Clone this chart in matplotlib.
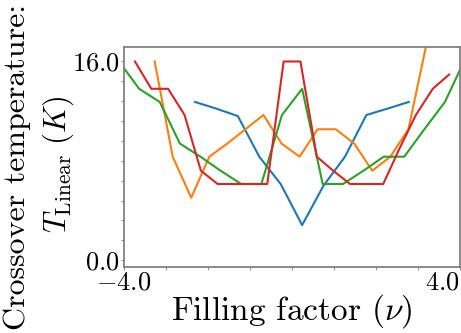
import matplotlib
matplotlib.use("Agg")
import matplotlib.pyplot as plt

plt.rcParams['font.family'] = 'serif'
plt.rcParams['font.serif'] = ['cmr10', 'DejaVu Serif']
plt.rcParams['mathtext.fontset'] = 'cm'
plt.rcParams['axes.unicode_minus'] = False

# filling factor grids of the four curves
x_blue = [-2.31, -1.80, -1.29, -0.78, -0.27, 0.24, 0.75, 1.26, 1.77, 2.27, 2.78]
x_orange = [-3.27, -2.84, -2.40, -1.97, -1.54, -1.11, -0.68, -0.25,
            0.18, 0.61, 1.04, 1.48, 1.91, 2.34, 2.77, 3.20]
x_green = [-4.12, -3.64, -3.15, -2.67, -2.18, -1.70, -1.21, -0.73, -0.24,
           0.24, 0.73, 1.21, 1.70, 2.18, 2.67, 3.15, 3.64, 4.12]
x_red = [-3.74, -3.35, -2.95, -2.56, -2.17, -1.77, -1.38, -0.98, -0.59, -0.20,
         0.20, 0.59, 0.98, 1.38, 1.77, 2.17, 2.56, 2.95, 3.35, 3.74]

# crossover temperatures (K)
t_blue = [12.74, 12.2, 11.6, 8.33, 6.13, 2.82, 6.0, 8.33, 11.69, 12.2, 12.74]
t_orange = [16.0, 8.33, 5.02, 8.33, 9.39, 10.54, 11.69, 9.39,
            8.33, 10.54, 10.54, 9.39, 7.2, 8.33, 10.54, 17.4]
t_green = [16.0, 13.8, 12.74, 9.39, 8.33, 7.2, 6.13, 6.13, 11.69,
           13.8, 6.13, 6.13, 7.2, 8.33, 8.33, 10.54, 12.74, 16.2]
t_red = [16.0, 13.8, 13.8, 11.7, 7.2, 6.13, 6.13, 6.13, 6.13, 16.0,
         16.0, 8.33, 7.2, 6.13, 6.13, 6.13, 9.0, 11.7, 13.8, 14.95]

x_ticks = [-4, -3, -2, -1, 0, 1, 2, 3, 4]
x_ticklabels = [r'$-4.0$', '', '', '', '', '', '', '', r'$4.0$']
y_ticks = [0, 1.6, 3.2, 4.8, 6.4, 8.0, 9.6, 11.2, 12.8, 14.4, 16.0]
y_ticklabels = [r'$0.0$'] + [''] * 9 + [r'$16.0$']

fig = plt.figure(figsize=(4.61, 3.33), dpi=100)
ax = fig.add_axes([0.269, 0.198, 0.729, 0.661])

ax.plot(x_blue, t_blue, color='tab:blue', lw=1.5)
ax.plot(x_orange, t_orange, color='tab:orange', lw=1.5)
ax.plot(x_green, t_green, color='tab:green', lw=1.5)
ax.plot(x_red, t_red, color='tab:red', lw=1.5)

ax.set_xlim(-4, 4)
ax.set_ylim(-0.56, 17.17)

ax.set_xticks(x_ticks)
ax.set_xticklabels(x_ticklabels, fontsize=19)
ax.set_yticks(y_ticks)
ax.set_yticklabels(y_ticklabels, fontsize=19)
ax.get_xticklabels()[-1].set_ha('right')
ax.tick_params(length=2, width=0.6, color='#777777', pad=1)

for sp in ax.spines.values():
    sp.set_color('#777777')
    sp.set_linewidth(1.2)

ax.set_xlabel(r'Filling factor $(\nu)$', fontsize=24, labelpad=-2)

# two-line y label, drawn as two texts so each line can be sized
fig.text(0.038, 0.50, 'Crossover temperature:', rotation=90,
         ha='center', va='center', fontsize=23)
fig.text(0.126, 0.505, r'$T_{\mathrm{Linear}}\ (K)$', rotation=90,
         ha='center', va='center', fontsize=22)

fig.savefig('out.png', dpi=100)
